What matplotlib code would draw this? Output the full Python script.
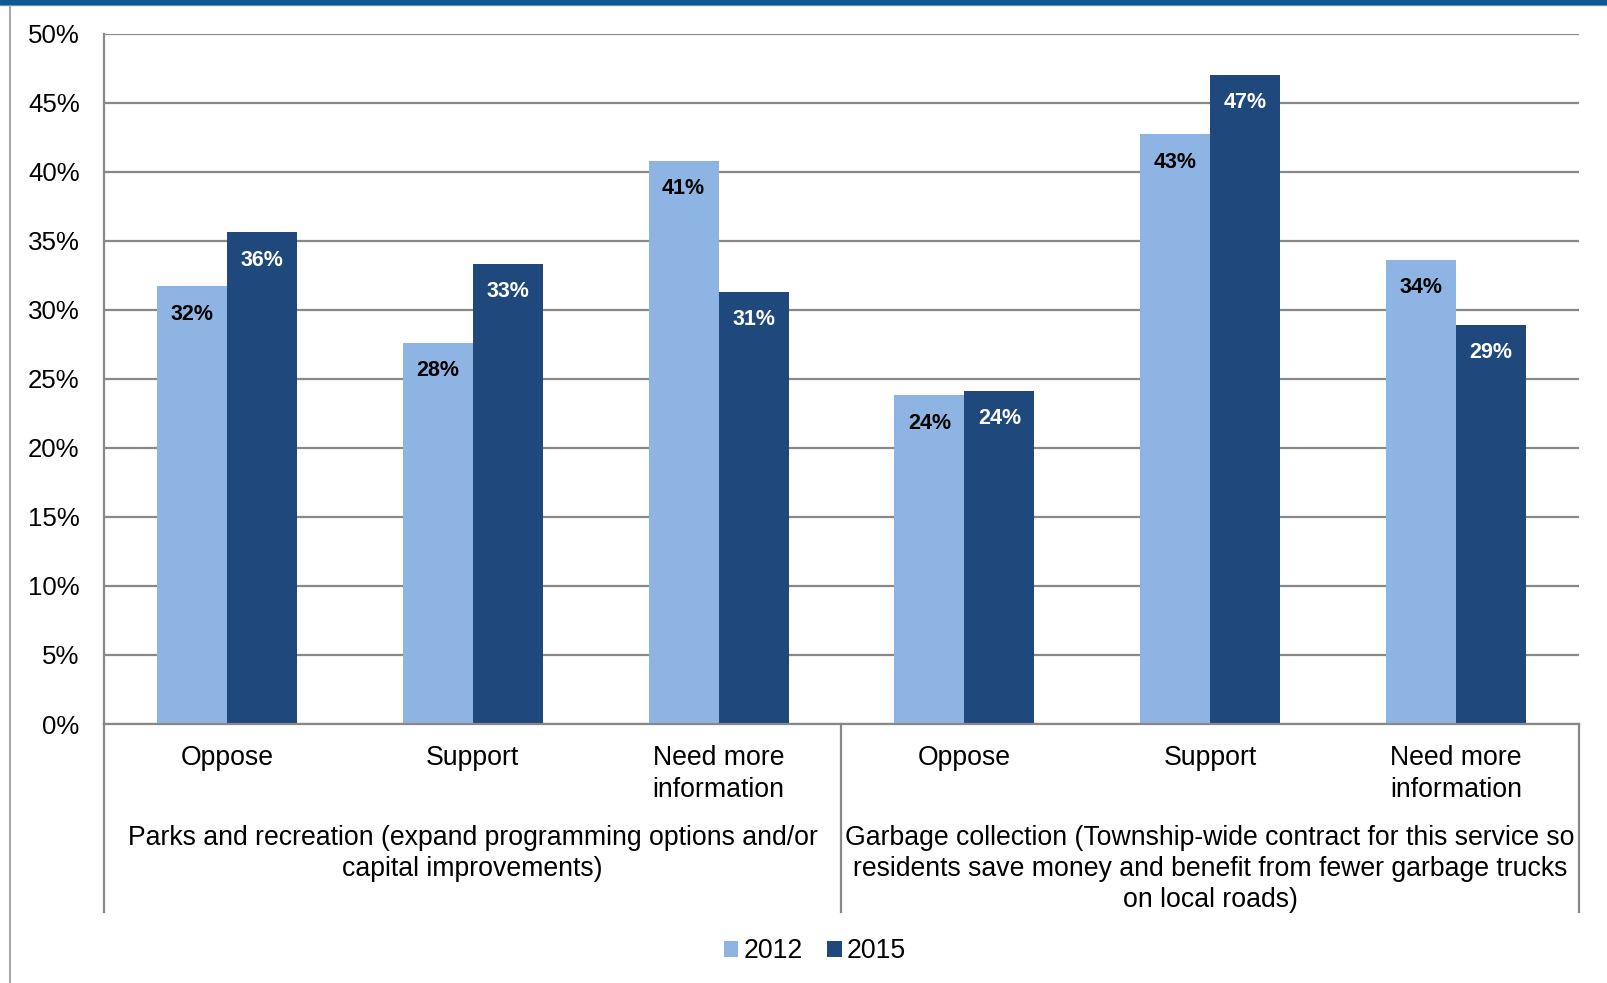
import numpy as np
import matplotlib
matplotlib.use("Agg")
import matplotlib.pyplot as plt
from matplotlib.patches import Rectangle, Patch
from matplotlib.lines import Line2D

plt.rcParams["font.family"] = ["Liberation Sans", "DejaVu Sans"]

# survey answers, two services, two survey years
categories = ["Oppose", "Support", "Need more\ninformation",
              "Oppose", "Support", "Need more\ninformation"]
groups = [
    "Parks and recreation (expand programming options and/or\ncapital improvements)",
    "Garbage collection (Township-wide contract for this service so\n"
    "residents save money and benefit from fewer garbage trucks\non local roads)",
]
years = ["2012", "2015"]
values_2012 = [31.7, 27.6, 40.8, 23.8, 42.7, 33.6]
values_2015 = [35.6, 33.3, 31.3, 24.1, 47.0, 28.9]
yticks = [0, 5, 10, 15, 20, 25, 30, 35, 40, 45, 50]

light = "#8eb4e3"
dark = "#1f497d"
grid_gray = "#888888"
fs = 19.2

W, H = 1608, 983
fig = plt.figure(figsize=(W / 100, H / 100), dpi=100)
ax = fig.add_axes([104 / W, 1 - 724 / H, 1475 / W, 690.5 / H])

x = np.arange(len(categories))
bw = 0.285
bars_a = ax.bar(x - bw / 2, values_2012, bw, color=light, zorder=2)
bars_b = ax.bar(x + bw / 2, values_2015, bw, color=dark, zorder=2)

for bars, vals, col in [(bars_a, values_2012, "black"), (bars_b, values_2015, "white")]:
    for b, v in zip(bars, vals):
        ax.annotate(f"{v:.0f}%", xy=(b.get_x() + b.get_width() / 2, v),
                    xytext=(0, -20), textcoords="offset points",
                    ha="center", va="center", fontsize=15.5, fontweight="bold",
                    color=col, zorder=3)

ax.set_xlim(-0.5, len(categories) - 0.5)
ax.set_ylim(0, 50)
ax.set_yticks(yticks)
ax.set_yticklabels([f"{t}%" for t in yticks], fontsize=18.6)
ax.tick_params(axis="y", length=0, pad=17.5)
ax.set_xticks([])
ax.yaxis.grid(True, color=grid_gray, lw=1.6, zorder=0)
ax.set_axisbelow(True)
for s in ["top", "right"]:
    ax.spines[s].set_visible(False)
ax.spines["left"].set_color(grid_gray)
ax.spines["left"].set_linewidth(1.6)
ax.spines["bottom"].set_color(grid_gray)
ax.spines["bottom"].set_linewidth(1.6)

# category labels and group labels under the axis
tr = ax.get_xaxis_transform()
for xi, c in zip(x, categories):
    ax.annotate(c, xy=(xi, 0), xycoords=tr, xytext=(0, -15),
                textcoords="offset points", ha="center", va="top",
                fontsize=fs, linespacing=1.3)
n = len(categories) // len(groups)
for gi, g in enumerate(groups):
    gx = gi * n + (n - 1) / 2
    ax.annotate(g, xy=(gx, 0), xycoords=tr, xytext=(0, -72.5),
                textcoords="offset points", ha="center", va="top",
                fontsize=fs, linespacing=1.26)

# separators between groups extend below the axis
sep_bottom = -(912 - 724) / 690.5
for sx in np.arange(len(groups) + 1) * n - 0.5:
    ax.plot([sx, sx], [0, sep_bottom], transform=tr, color=grid_gray,
            lw=1.6, clip_on=False)

handles = [Patch(facecolor=light), Patch(facecolor=dark)]
fig.legend(handles, years, loc="center", bbox_to_anchor=(815 / W, 1 - 951 / H),
           ncol=2, frameon=False, fontsize=fs, handlelength=0.55,
           handleheight=0.55, handletextpad=0.2, columnspacing=0.9)

# frame decorations
fig.patches.append(Rectangle((0, 1 - 4 / H), 1, 4 / H, transform=fig.transFigure,
                             color="#0b5a96", zorder=5))
fig.lines.append(Line2D([0, 1], [1 - 4.5 / H] * 2, transform=fig.transFigure,
                        color="#999999", lw=1))
fig.lines.append(Line2D([10 / W] * 2, [0, 1 - 4 / H], transform=fig.transFigure,
                        color="#aaaaaa", lw=1.5))

fig.savefig("out.png", dpi=100)
